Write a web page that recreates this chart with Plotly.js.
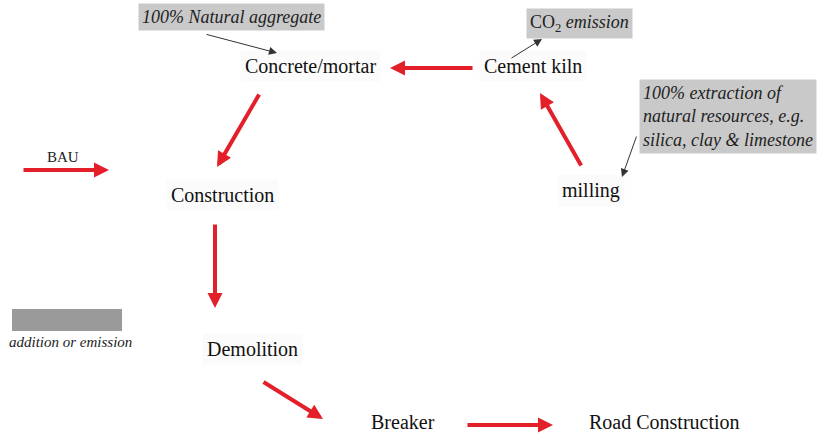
<!DOCTYPE html>
<html>
<head>
<meta charset="utf-8">
<script src="https://cdn.plot.ly/plotly-3.0.1.min.js"></script>
<style>html,body{margin:0;padding:0;background:#fff;}#chart{width:820px;height:433px;}</style>
</head>
<body>
<div id="chart"></div>
<script>
// ---- content ----
const nodeLabels = ["Concrete/mortar", "Cement kiln", "milling", "Construction", "Demolition", "Breaker", "Road Construction"];
const flowFrom = ["Cement kiln", "Concrete/mortar", "BAU", "Construction", "Demolition", "Breaker", "milling"];
const flowTo   = ["Concrete/mortar", "Construction", "Construction", "Demolition", "Breaker", "Road Construction", "Cement kiln"];
const noteTexts = ["<i>100% Natural aggregate</i>", "CO<sub>2</sub> <i>emission</i>", "<i>100% extraction of<br>natural resources, e.g.<br>silica, clay &amp; limestone</i>"];
const noteLinks = ["Concrete/mortar", "Cement kiln", "milling"];
const startLabel = "BAU";
const legendLabel = "addition or emission";

// ---- layout (positions in pixel-like data units) ----
const nodePos = {
  "Concrete/mortar": [310, 66], "Cement kiln": [533, 66], "milling": [591, 190],
  "Construction": [222, 195], "Demolition": [252, 349], "Breaker": [403, 422],
  "Road Construction": [664, 422]
};
const nodeBg = {"Breaker": false, "Road Construction": false};
const flowGeom = [ // [startX, startY, tipX, tipY]
  [474, 68, 390, 68], [260, 93, 217, 167], [22, 170, 109, 170],
  [215, 223, 215, 308], [262, 381, 323, 419], [466, 425, 553, 425], [582, 167, 540, 93]
];
const notePos = [[231, 17, "center"], [579, 23, "center"], [639, 116, "left"]];
const noteArrow = [[205, 34, 277, 53], [510, 59, 542, 39], [637, 135, 622, 177]];

const RED = "#e3202a";
const FONT = "Liberation Serif";
const ann = [];

nodeLabels.forEach(n => {
  const bg = nodeBg[n] !== false;
  ann.push({x: nodePos[n][0], y: nodePos[n][1], xref: "x", yref: "y", text: n, showarrow: false,
    xanchor: "center", yanchor: "middle", font: {family: FONT, size: 20, color: "#111"},
    bgcolor: bg ? "#fbfbfb" : "rgba(0,0,0,0)", borderpad: bg ? 4 : 0});
});

flowFrom.forEach((f, i) => {
  const g = flowGeom[i];
  ann.push({x: g[2], y: g[3], ax: g[0], ay: g[1], xref: "x", yref: "y", axref: "x", ayref: "y",
    text: "", showarrow: true, arrowhead: 2, arrowsize: 0.75, arrowwidth: 4, arrowcolor: RED, standoff: 0});
});

noteTexts.forEach((t, i) => {
  const p = notePos[i];
  ann.push({x: p[0], y: p[1], xref: "x", yref: "y", text: t, showarrow: false,
    xanchor: p[2], yanchor: "middle", align: "left",
    font: {family: FONT, size: 18, color: "#222"}, bgcolor: "#c9c9c9", borderpad: 3});
  const a = noteArrow[i];
  ann.push({x: a[2], y: a[3], ax: a[0], ay: a[1], xref: "x", yref: "y", axref: "x", ayref: "y",
    text: "", showarrow: true, arrowhead: 2, arrowsize: 1.6, arrowwidth: 1, arrowcolor: "#333", standoff: 0});
});

ann.push({x: 63, y: 157, xref: "x", yref: "y", text: startLabel, showarrow: false,
  xanchor: "center", yanchor: "middle", font: {family: FONT, size: 15, color: "#222"}});
ann.push({x: 70, y: 342, xref: "x", yref: "y", text: "<i>" + legendLabel + "</i>", showarrow: false,
  xanchor: "center", yanchor: "middle", font: {family: FONT, size: 15, color: "#222"}});

const shapes = [{type: "rect", xref: "x", yref: "y", x0: 12, x1: 122, y0: 309, y1: 331,
  fillcolor: "#9a9a9a", line: {width: 0}}];

const layout = {
  width: 820, height: 433, margin: {l: 0, r: 0, t: 0, b: 0},
  paper_bgcolor: "#fff", plot_bgcolor: "#fff", showlegend: false,
  xaxis: {range: [0, 820], visible: false, fixedrange: true},
  yaxis: {range: [433, 0], visible: false, fixedrange: true},
  annotations: ann, shapes: shapes
};
Plotly.newPlot("chart", [{x: [], y: [], type: "scatter", hoverinfo: "skip"}], layout, {staticPlot: true});
</script>
</body>
</html>
